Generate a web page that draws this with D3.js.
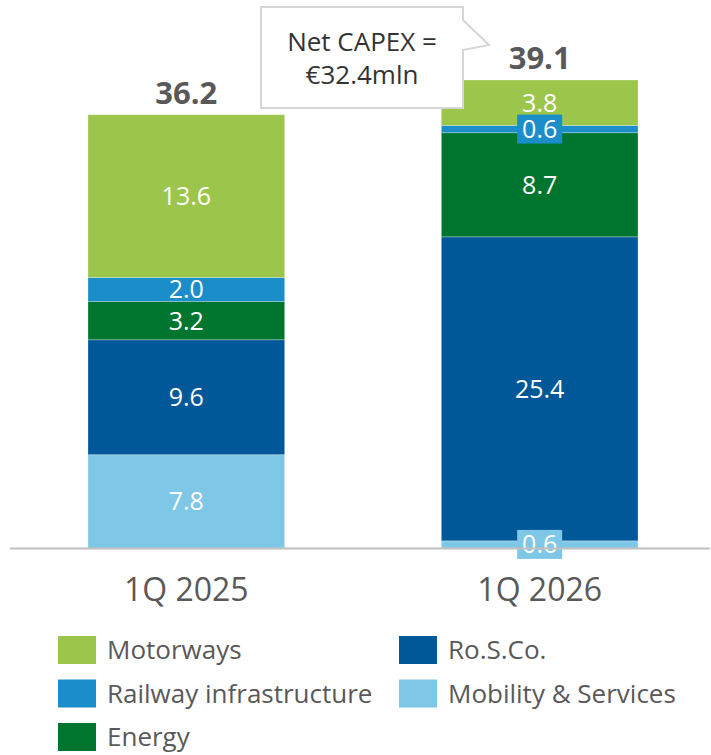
<!DOCTYPE html>
<html>
<head>
<meta charset="utf-8">
<script src="https://cdn.jsdelivr.net/npm/d3@7"></script>
<style>
  body { margin: 0; background: #fff; }
  svg { display: block; font-family: "Open Sans", sans-serif; }
</style>
</head>
<body>
<svg id="chart" width="711" height="755"></svg>
<script>
// data
const periods = ["1Q 2025", "1Q 2026"];
const segments = ["Mobility & Services", "Ro.S.Co.", "Energy", "Railway infrastructure", "Motorways"];
const mobility = [7.8, 0.6];
const rosco = [9.6, 25.4];
const energy = [3.2, 8.7];
const railway = [2.0, 0.6];
const motorways = [13.6, 3.8];
const totals = [36.2, 39.1];
const legendOrder = ["Motorways", "Ro.S.Co.", "Railway infrastructure", "Mobility & Services", "Energy"];
const calloutLines = ["Net CAPEX =", "€32.4mln"];

const colors = {
    "Motorways": "#9bc64b",
    "Railway infrastructure": "#1b8dc9",
    "Energy": "#00752f",
    "Ro.S.Co.": "#005898",
    "Mobility & Services": "#7fc7e6"
};

const seriesValues = {
    "Mobility & Services": mobility,
    "Ro.S.Co.": rosco,
    "Energy": energy,
    "Railway infrastructure": railway,
    "Motorways": motorways
};

const rows = periods.map((p, i) => {
    const r = {period: p};
    segments.forEach(s => r[s] = seriesValues[s][i]);
    return r;
});

const svg = d3.select("#chart");

const x = d3.scaleBand()
    .domain(periods)
    .range([88, 638])
    .paddingInner(0.4435)
    .paddingOuter(0);

const y = d3.scaleLinear()
    .domain([0, 39.1])
    .range([548, 80]);

const stacked = d3.stack().keys(segments)(rows);

// bars
const layers = svg.append("g")
    .selectAll("g")
    .data(stacked)
    .join("g")
    .attr("fill", d => colors[d.key]);

layers.selectAll("rect")
    .data(d => d.map(v => Object.assign(v, {key: d.key})))
    .join("rect")
    .attr("x", d => x(d.data.period))
    .attr("y", d => y(d[1]))
    .attr("width", x.bandwidth())
    .attr("height", d => y(d[0]) - y(d[1]))
    .attr("stroke", "rgba(255,255,255,0.25)")
    .attr("stroke-width", 1);

// value labels
const labels = svg.append("g")
    .attr("font-size", 25)
    .attr("text-anchor", "middle")
    .selectAll("g")
    .data(stacked.flatMap(s => s))
    .join("g")
    .attr("transform", d => `translate(${x(d.data.period) + x.bandwidth() / 2},${(y(d[0]) + y(d[1])) / 2})`);

// thin segments get a colored box behind the label
labels.filter(d => y(d[0]) - y(d[1]) < 15)
    .append("rect")
    .attr("x", -22.5)
    .attr("y", -14.5)
    .attr("width", 45)
    .attr("height", 29)
    .attr("fill", d => colors[d.key]);

labels.append("text")
    .attr("fill", "#fff")
    .attr("dy", "0.36em")
    .text(d => (d[1] - d[0]).toFixed(1));

// axis line
svg.append("line")
    .attr("x1", 10)
    .attr("x2", 710)
    .attr("y1", 548.5)
    .attr("y2", 548.5)
    .attr("stroke", "#c0c0c0")
    .attr("stroke-width", 2);

// category labels
svg.append("g")
    .attr("font-size", 32)
    .attr("fill", "#595959")
    .attr("text-anchor", "middle")
    .selectAll("text")
    .data(periods)
    .join("text")
    .attr("x", d => x(d) + x.bandwidth() / 2)
    .attr("y", 601)
    .text(d => d);

// totals
svg.append("g")
    .attr("font-size", 31)
    .attr("font-weight", "bold")
    .attr("fill", "#595959")
    .attr("text-anchor", "middle")
    .selectAll("text")
    .data(totals)
    .join("text")
    .attr("x", (d, i) => x(periods[i]) + x.bandwidth() / 2)
    .attr("y", d => y(d) - 11)
    .text(d => d.toFixed(1));

// callout box
const callout = svg.append("g");
callout.append("path")
    .attr("d", "M261,7 H463 V20 L489,45 L463,50 V108 H261 Z")
    .attr("fill", "#fff")
    .attr("stroke", "#d6d6d6")
    .attr("stroke-width", 2)
    .attr("stroke-linejoin", "miter");

callout.append("g")
    .attr("font-size", 26)
    .attr("fill", "#333")
    .attr("text-anchor", "middle")
    .selectAll("text")
    .data(calloutLines)
    .join("text")
    .attr("x", 362)
    .attr("y", (d, i) => 51 + i * 33)
    .text(d => d);

// legend
const legend = svg.append("g")
    .selectAll("g")
    .data(legendOrder)
    .join("g")
    .attr("transform", (d, i) => `translate(${i % 2 === 0 ? 58 : 399},${636 + Math.floor(i / 2) * 43.5})`);

legend.append("rect")
    .attr("width", 38)
    .attr("height", 28)
    .attr("fill", d => colors[d]);

legend.append("text")
    .attr("x", 49)
    .attr("y", 14)
    .attr("dy", "0.36em")
    .attr("font-size", 26)
    .attr("fill", "#595959")
    .text(d => d);
</script>
</body>
</html>
